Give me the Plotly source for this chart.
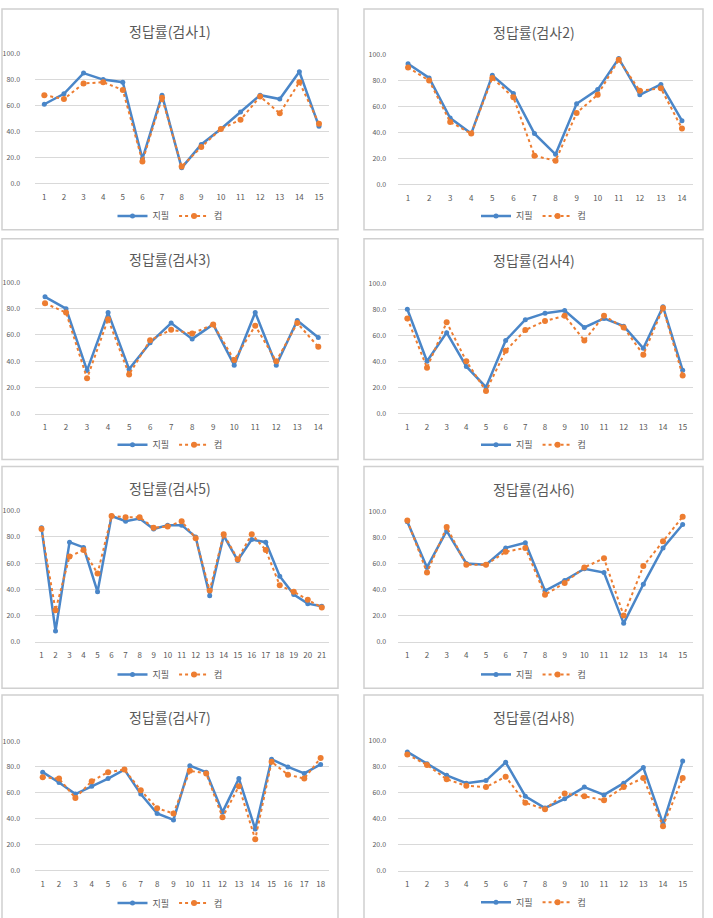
import plotly.graph_objects as go

W, H = 713, 918

titles = ["정답률(검사1)", "정답률(검사2)", "정답률(검사3)", "정답률(검사4)",
          "정답률(검사5)", "정답률(검사6)", "정답률(검사7)", "정답률(검사8)"]
series_names = ["지필", "컴"]

paper1 = [61, 69, 85, 80, 78, 19, 68, 12, 30, 42, 55, 68, 65, 86, 44]
comp1 = [68, 65, 77, 78, 72, 17, 66, 13, 28, 42, 49, 67, 54, 78, 46]

paper2 = [93, 82, 51, 39, 84, 70, 39, 23, 62, 73, 97, 69, 77, 49]
comp2 = [90, 80, 48, 39, 82, 67, 22, 18, 55, 69, 96, 72, 74, 43]

paper3 = [89, 80, 33, 77, 34, 54, 69, 57, 68, 37, 77, 37, 71, 58]
comp3 = [84, 77, 27, 72, 30, 56, 64, 61, 68, 41, 67, 40, 69, 51]

paper4 = [80, 40, 62, 36, 20, 56, 72, 77, 79, 66, 73, 67, 50, 82, 33]
comp4 = [73, 35, 70, 40, 17, 48, 64, 71, 75, 56, 75, 66, 45, 81, 29]

paper5 = [87, 8, 76, 72, 38, 96, 92, 94, 86, 89, 89, 80, 35, 81, 62, 78, 76, 50, 36, 29, 27]
comp5 = [86, 24, 65, 70, 52, 96, 95, 95, 87, 88, 92, 79, 39, 82, 63, 82, 70, 43, 38, 32, 26]

paper6 = [92, 57, 85, 60, 59, 72, 76, 39, 47, 56, 53, 14, 44, 72, 90]
comp6 = [93, 53, 88, 59, 59, 69, 72, 36, 45, 57, 64, 20, 58, 77, 96]

paper7 = [76, 68, 59, 65, 71, 78, 59, 44, 39, 81, 76, 45, 71, 32, 86, 80, 75, 82]
comp7 = [72, 71, 56, 69, 76, 78, 62, 48, 44, 77, 75, 41, 65, 24, 84, 74, 71, 87]

paper8 = [91, 82, 73, 67, 69, 83, 57, 48, 55, 64, 58, 67, 79, 36, 84]
comp8 = [89, 81, 70, 65, 64, 72, 52, 47, 59, 57, 54, 64, 71, 34, 71]

paper_sets = [paper1, paper2, paper3, paper4, paper5, paper6, paper7, paper8]
comp_sets = [comp1, comp2, comp3, comp4, comp5, comp6, comp7, comp8]

y_ticks = [0, 20, 40, 60, 80, 100]

BLUE = "#4A86C8"
ORANGE = "#ED7D31"
GRID = "#D9D9D9"
TXT = "#595959"
FONT = "Noto Sans CJK KR"

# layout geometry (pixels)
x_dom_px = [(34.5, 328.8), (397.5, 692.5)]
y_dom_px = [(48.3, 180.0), (49.3, 180.7), (280.3, 413.7), (281.3, 413.0),
            (512.0, 644.7), (512.7, 644.7), (745.7, 876.7), (744.7, 877.0)]
panel_px = [(2, 3, 338, 227), (364, 3, 703, 227), (2, 236, 338, 460), (364, 236, 703, 460),
            (2, 467, 338, 692), (364, 467, 703, 692), (2, 699, 338, 930), (364, 699, 703, 930)]
title_y = [25, 26, 257, 258, 489, 490, 721, 721]
legend_y = [213, 213, 445, 445, 678, 678, 910, 909]

fig = go.Figure()
layout = dict(width=W, height=H, margin=dict(l=0, r=0, t=0, b=0),
              paper_bgcolor="white", plot_bgcolor="white",
              font=dict(family=FONT, color=TXT), showlegend=True,
              shapes=[], annotations=[])

for i in range(8):
    k = i + 1
    sfx = "" if k == 1 else str(k)
    col = i % 2
    n = len(paper_sets[i])
    cats = list(range(1, n + 1))
    lg = "legend" + sfx
    fig.add_trace(go.Scatter(x=cats, y=paper_sets[i], mode="lines+markers", name=series_names[0],
                             line=dict(color=BLUE, width=2.5), marker=dict(color=BLUE, size=5),
                             xaxis="x" + sfx, yaxis="y" + sfx, legend=lg))
    fig.add_trace(go.Scatter(x=cats, y=comp_sets[i], mode="lines+markers", name=series_names[1],
                             line=dict(color=ORANGE, width=2, dash="dot"), marker=dict(color=ORANGE, size=6),
                             xaxis="x" + sfx, yaxis="y" + sfx, legend=lg))
    x0, x1 = x_dom_px[col]
    yt, yb = y_dom_px[i]
    layout["xaxis" + sfx] = dict(domain=[x0 / W, x1 / W], range=[0.5, n + 0.5], anchor="y" + sfx,
                                 tickmode="array", tickvals=cats, ticktext=[str(c) for c in cats],
                                 showgrid=False, zeroline=False, showline=True, linecolor=GRID, linewidth=1,
                                 ticks="outside", ticklen=6, tickcolor="rgba(0,0,0,0)",
                                 tickfont=dict(size=8, color=TXT, family=FONT), fixedrange=True)
    layout["yaxis" + sfx] = dict(domain=[1 - yb / H, 1 - yt / H], range=[0, 100], anchor="x" + sfx,
                                 tickmode="array", tickvals=y_ticks, ticktext=[f"{v:.1f}" for v in y_ticks],
                                 showgrid=True, gridcolor=GRID, gridwidth=1, zeroline=False, showline=False,
                                 ticks="outside", ticklen=12 if col == 0 else 9, tickcolor="rgba(0,0,0,0)",
                                 tickfont=dict(size=7, color=TXT, family=FONT), fixedrange=True)
    px0, py0, px1, py1 = panel_px[i]
    layout["shapes"].append(dict(type="rect", xref="paper", yref="paper",
                                 x0=px0 / W, x1=px1 / W, y0=1 - py1 / H, y1=1 - py0 / H,
                                 line=dict(color="#D0D0D0", width=1.5), layer="below"))
    layout["annotations"].append(dict(text=titles[i], xref="paper", yref="paper",
                                      x=((px0 + px1) / 2) / W, y=1 - title_y[i] / H,
                                      xanchor="center", yanchor="middle", showarrow=False,
                                      font=dict(size=14, color=TXT, family=FONT)))
    layout[lg] = dict(orientation="h", x=((px0 + px1) / 2) / W, y=1 - legend_y[i] / H,
                      xanchor="center", yanchor="middle", bgcolor="rgba(0,0,0,0)",
                      font=dict(size=9, color=TXT, family=FONT), itemwidth=30,
                      tracegroupgap=0)

fig.update_layout(**layout)
fig.write_html("out.html")
